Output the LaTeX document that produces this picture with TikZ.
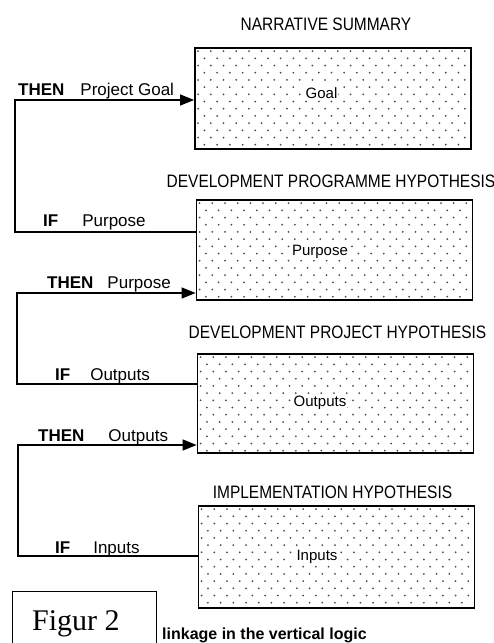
\documentclass[tikz,border=0pt]{standalone}
\usepackage{fontspec}
\setmainfont{Liberation Sans}
\newfontfamily\figfont{Liberation Serif}
\newfontfamily\titlefont[FakeStretch=0.86]{Liberation Sans}
\usetikzlibrary{arrows.meta,calc}
\tikzset{
  hbox/.style={draw=black, line width=1.8pt, fill=white, minimum width=276pt, minimum height=101pt, inner sep=0pt},
  intext/.style={font=\fontsize{15}{17}\selectfont, fill=white, inner sep=1pt},
  titletext/.style={font=\titlefont\fontsize{18}{20}\selectfont, anchor=base, inner sep=0pt},
  lbl/.style={font=\fontsize{17}{19}\selectfont, anchor=base west, inner sep=0pt},
  conn/.style={line width=1.5pt, line join=miter},
  arr/.style={conn, -{Triangle[length=14pt,width=11pt]}},
  dotc/.style={fill=black!70}
}
\newcommand\dotgrid[1]{%
  \begin{scope}
    \clip ([shift={(2pt,-2pt)}]#1.north west) rectangle ([shift={(-2pt,2pt)}]#1.south east);
    \foreach \r in {0,...,14} {
      \foreach \c in {0,...,22} {
        \fill[dotc] ([shift={({\c*12.7pt+4pt+mod(\r,2)*6.35pt},{-\r*7.2pt-4pt})}]#1.north west) circle (1pt);
      }
    }
  \end{scope}}
\begin{document}
\begin{tikzpicture}[x=1pt,y=-1pt]
\useasboundingbox (0,0) rectangle (494,643);
\fill[white] (0,0) rectangle (494,643);

% boxes
\node[hbox] (goal) at (333,98.5) {};
\node[hbox, minimum height=100pt] (purpose) at (334.5,250) {};
\node[hbox, minimum height=99pt] (outputs) at (335.5,403.5) {};
\node[hbox, minimum height=102pt] (inputs) at (336.5,557) {};
\dotgrid{goal}
\dotgrid{purpose}
\dotgrid{outputs}
\dotgrid{inputs}

% box texts
\node[intext] (goaltxt) at (321.5,93) {Goal};
\node[intext] (purposetxt) at (320,252) {Purpose};
\node[intext] (outputstxt) at (320,403) {Outputs};
\node[intext] (inputstxt) at (317,557) {Inputs};

% titles
\node[titletext] (t1) at (326,30) {NARRATIVE SUMMARY};
\node[titletext] (t2) at (331,187) {DEVELOPMENT PROGRAMME HYPOTHESIS};
\node[titletext] (t3) at (337.5,338) {DEVELOPMENT PROJECT HYPOTHESIS};
\node[titletext] (t4) at (332.5,498) {IMPLEMENTATION HYPOTHESIS};

% side labels
\node[lbl] (l1) at (18,95) {\textbf{THEN}\hspace{16pt}Project Goal};
\node[lbl] (l2) at (43,226) {\textbf{IF}\hspace{24pt}Purpose};
\node[lbl] (l3) at (47,288) {\textbf{THEN}\hspace{14pt}Purpose};
\node[lbl] (l4) at (55,380) {\textbf{IF}\hspace{20pt}Outputs};
\node[lbl] (l5) at (38,441) {\textbf{THEN}\hspace{24pt}Outputs};
\node[lbl] (l6) at (55,553) {\textbf{IF}\hspace{23pt}Inputs};

% connector corners
\coordinate (a1) at (15,100);
\coordinate (b1) at (15,232);
\coordinate (a2) at (17,293);
\coordinate (b2) at (17,384);
\coordinate (a3) at (18,445);
\coordinate (b3) at (18,556);

\draw[arr] (purpose.west |- b1) -- (b1) -- (a1) -- (goal.west |- a1);
\draw[arr] (outputs.west |- b2) -- (b2) -- (a2) -- (purpose.west |- a2);
\draw[arr] (inputs.west |- b3) -- (b3) -- (a3) -- (outputs.west |- a3);

% caption
\draw[line width=1pt] (12,644) -- (12,591) -- (156,591) -- (156,644);
\node[font=\figfont\fontsize{30}{32}\selectfont, anchor=base west, inner sep=0pt] (fig) at (32,630) {Figur 2};
\node[font=\bfseries\fontsize{16}{18}\selectfont, anchor=base west, inner sep=0pt] (cap) at (162,639) {linkage in the vertical logic};
\end{tikzpicture}
\end{document}
